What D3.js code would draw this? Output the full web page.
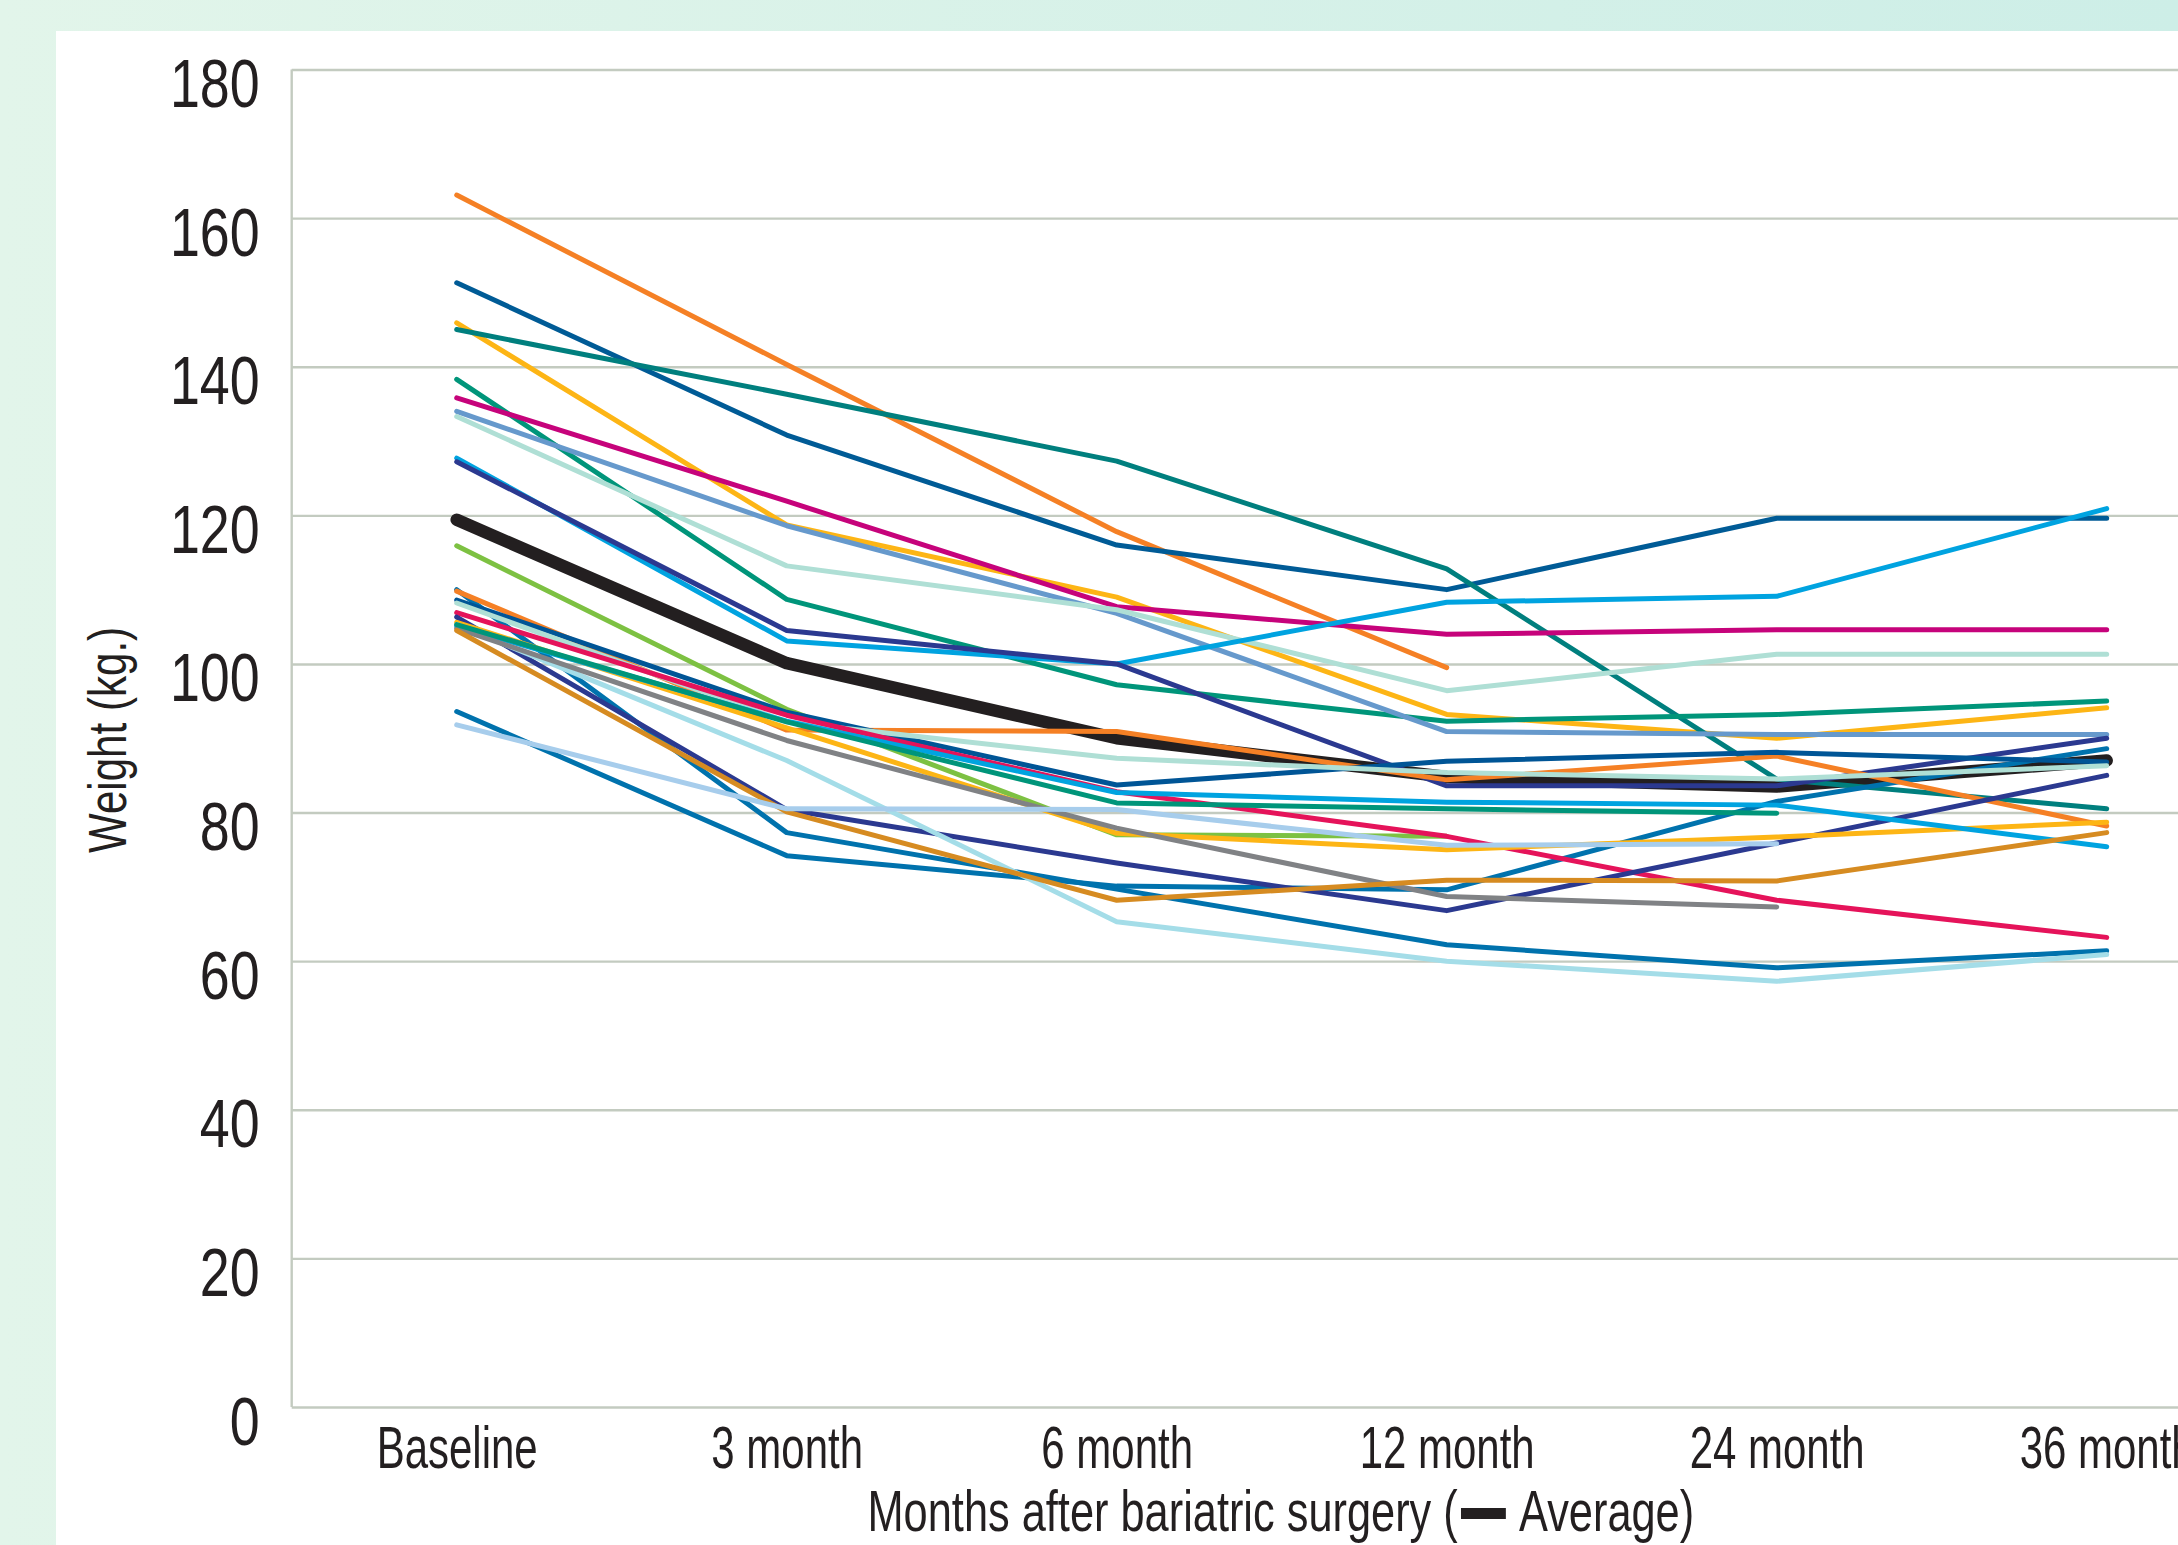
<!DOCTYPE html>
<html lang="en">
<head>
  <meta charset="UTF-8">
  <title>Weight after bariatric surgery</title>
  <script src="https://d3js.org/d3.v7.min.js"></script>
  <style>
    * { margin: 0; padding: 0; box-sizing: border-box; }
    body { width: 2178px; height: 1545px; overflow: hidden; background: #fff; }
    svg { display: block; }
    text {
      font-family: "Liberation Sans", Arial, sans-serif;
      fill: #231f20;
    }
  </style>
</head>
<body>
  <div id="chart"></div>

  <script>
    // categories on the x axis
    const months = ["Baseline", "3 month", "6 month", "12 month", "24 month", "36 month"];
    const yTicks = [0, 20, 40, 60, 80, 100, 120, 140, 160, 180];

    // average weight (thick black line)
    const average = [119.4, 100.1, 90.0, 84.8, 83.5, 87.0];

    // one colour + one row of weights per patient (null = no visit)
    const patientColors = [
      "#f58025", "#005b96", "#fdb515", "#007f7e", "#00957a",
      "#c6037b", "#6699cc", "#afdfd5", "#00a3e0", "#2b3990",
      "#7dc142", "#0072ad", "#0072ad", "#f58025", "#005596",
      "#afdfd5", "#e5135a", "#2b3990", "#fdb515", "#a4dde8",
      "#00a3e0", "#808285", "#d68b21", "#a7cdec", "#00957a"
    ];
    const patientWeights = [
      [163.1, 140.3, 117.8, 99.5, null, null],
      [151.3, 130.8, 116.0, 110.0, 119.6, 119.6],
      [145.9, 118.7, 109.0, 93.2, 90.0, 94.1],
      [145.0, 136.3, 127.3, 112.8, 84.5, 80.5],
      [138.3, 108.7, 97.2, 92.3, 93.2, 95.0],
      [135.8, 121.9, 107.7, 104.0, 104.6, 104.6],
      [134.0, 118.6, 106.8, 90.9, 90.5, 90.5],
      [133.3, 113.2, 107.3, 96.4, 101.3, 101.3],
      [127.7, 103.1, 100.0, 108.3, 109.1, 120.9],
      [127.2, 104.5, 100.0, 83.6, 83.6, 90.0],
      [115.9, 93.9, 77.0, 76.8, null, null],
      [110.0, 77.3, 69.7, 62.2, 59.1, 61.4],
      [93.6, 74.2, 70.1, 69.6, 81.5, 88.6],
      [109.8, 91.1, 90.9, 84.4, 87.6, 78.2],
      [108.6, 93.5, 83.7, 86.9, 88.1, 86.8],
      [108.2, 92.2, 87.3, 85.4, 84.5, 86.3],
      [106.9, 93.1, 82.8, 76.8, 68.2, 63.2],
      [106.3, 80.4, 73.2, 66.8, 75.9, 85.0],
      [105.6, 91.4, 77.2, 75.0, 76.7, 78.7],
      [105.3, 87.0, 65.3, 60.0, 57.3, 60.9],
      [105.1, 92.3, 82.7, 81.4, 81.0, 75.4],
      [104.8, 89.7, 77.9, 68.7, 67.3, null],
      [104.5, 80.1, 68.2, 70.9, 70.8, 77.3],
      [91.8, 80.5, 80.4, 75.6, 75.8, null],
      [105.3, 92.2, 81.3, 80.5, 79.9, null]
    ];

    const W = 2178, H = 1545;
    const plot = {left: 291.7, top: 69.5, bottom: 1407, right: 2271.7};

    const svg = d3.select("#chart")
                  .append("svg")
                  .attr("width", W)
                  .attr("height", H);

    // page background: pale green band + white card
    const grad = svg.append("defs").append("linearGradient")
                    .attr("id", "bg").attr("x1", "0%").attr("x2", "100%");
    grad.append("stop").attr("offset", "0%").attr("stop-color", "#e2f5ea");
    grad.append("stop").attr("offset", "100%").attr("stop-color", "#cdeee7");
    svg.append("rect").attr("width", W).attr("height", H).attr("fill", "url(#bg)");
    svg.append("rect").attr("x", 56).attr("y", 31)
       .attr("width", W - 56).attr("height", H - 31).attr("fill", "#fff");

    const x = d3.scalePoint()
                .domain(months)
                .range([plot.left, plot.right])
                .padding(0.5);

    const y = d3.scaleLinear()
                .domain([0, 180])
                .range([plot.bottom, plot.top]);

    // grid
    svg.append("g")
       .attr("transform", `translate(${plot.left},0)`)
       .call(d3.axisLeft(y).tickValues(yTicks).tickSize(-(plot.right - plot.left)).tickFormat(""))
       .call(g => g.select(".domain").remove())
       .selectAll("line")
       .style("stroke", "#c3cbc0")
       .style("stroke-width", 2.4);

    svg.append("line")
       .attr("x1", plot.left).attr("x2", plot.left)
       .attr("y1", y(180)).attr("y2", y(0))
       .style("stroke", "#c3cbc0")
       .style("stroke-width", 2.4);

    // y tick labels (condensed look: squeeze horizontally)
    svg.append("g")
       .attr("transform", `translate(${plot.left - 32},37)`)
       .call(d3.axisLeft(y).tickValues(yTicks).tickSize(0).tickPadding(0))
       .call(g => g.select(".domain").remove())
       .selectAll("text")
       .attr("dy", null)
       .attr("x", 0)
       .attr("transform", "scale(0.78,1)")
       .style("font-family", "'Liberation Sans', Arial, sans-serif")
       .style("font-size", "69px")
       .style("fill", "#231f20");

    // x tick labels
    svg.append("g")
       .attr("transform", `translate(0,${plot.bottom})`)
       .call(d3.axisBottom(x).tickSize(0).tickPadding(0))
       .call(g => g.select(".domain").remove())
       .selectAll("text")
       .attr("dy", null)
       .attr("y", 61)
       .attr("transform", "scale(0.70,1)")
       .style("font-family", "'Liberation Sans', Arial, sans-serif")
       .style("font-size", "60px")
       .style("fill", "#231f20");

    // y axis title
    svg.append("text")
       .attr("transform", "translate(126,740) rotate(-90) scale(0.78,1)")
       .attr("text-anchor", "middle")
       .style("font-size", "54px")
       .text("Weight (kg.)");

    // x axis title with the average legend swatch
    const titleG = svg.append("g");
    const title = titleG.append("text")
                        .attr("y", 1531)
                        .style("font-size", "58px");
    const t1 = title.append("tspan").text("Months after bariatric surgery (");
    const gap = 82;
    const t2 = title.append("tspan").attr("dx", gap).text("Average)");
    const w1 = t1.node().getComputedTextLength();
    const w2 = t2.node().getComputedTextLength();
    const total = w1 + gap + w2;
    title.attr("x", -total / 2);
    titleG.append("rect")
          .attr("x", -total / 2 + w1 + 4).attr("y", 1508)
          .attr("width", gap - 22).attr("height", 11)
          .attr("fill", "#231f20");
    titleG.attr("transform", `translate(1281,0) scale(${827 / total},1)`);

    const line = d3.line()
                   .defined(d => d != null)
                   .x((d, i) => x(months[i]))
                   .y(d => y(d));

    const lines = svg.append("g")
                     .style("fill", "none")
                     .style("stroke-linecap", "round")
                     .style("stroke-linejoin", "round");

    lines.append("path")
         .datum(average)
         .attr("d", line)
         .style("stroke", "#231f20")
         .style("stroke-width", 12.5);

    lines.selectAll(".patient")
         .data(patientWeights)
         .enter()
         .append("path")
         .attr("class", "patient")
         .attr("d", line)
         .style("stroke", (d, i) => patientColors[i])
         .style("stroke-width", 5);
  </script>
</body>
</html>
